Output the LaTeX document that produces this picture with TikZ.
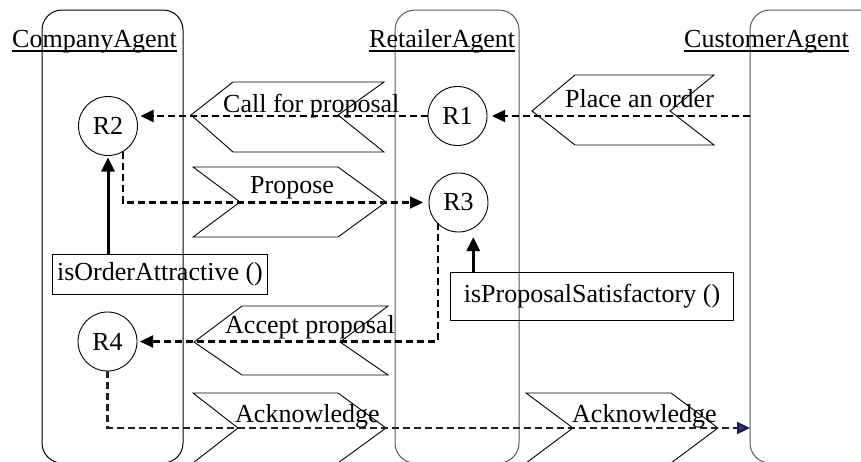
\documentclass[tikz,border=0pt]{standalone}
\usepackage{fontspec}
\setmainfont{Liberation Serif}
\usetikzlibrary{arrows.meta,calc}
\definecolor{acknavy}{RGB}{30,30,60}
\definecolor{ackblue}{RGB}{51,51,170}
\begin{document}
\begin{tikzpicture}[x=1pt,y=-1pt,
  lane/.style={draw, rounded corners=20pt, inner sep=0pt, outer sep=0pt, line width=1pt},
  state/.style={draw, circle, minimum size=59pt, inner sep=0pt, outer sep=0pt, line width=0.9pt,
                font=\fontsize{26}{31}\selectfont},
  txt/.style={font=\fontsize{26}{31}\selectfont, inner sep=0pt, anchor=base west},
  cond/.style={draw, line width=1pt, inner sep=0pt, anchor=north west,
               font=\fontsize{26}{31}\selectfont},
  msgshape/.style={draw, line width=0.9pt, line join=miter},
  msg/.style={line width=2.2pt, dash pattern=on 7pt off 4pt,
              -{Triangle[length=13pt,width=12pt]}},
  ackmsg/.style={msg, draw=acknavy,
                 -{Triangle[length=13pt,width=12pt,fill=ackblue]}},
  call/.style={line width=3pt, -{Triangle[length=14pt,width=13pt]}},
  uline/.style={line width=1.5pt}
]
\useasboundingbox (0,0) rectangle (861,461);
\clip (0,0) rectangle (861,461);

% swim lanes of the three agents
\node[lane, minimum width=141pt, minimum height=453pt, anchor=north west] (company) at (42,10) {};
\node[lane, draw=black!65, minimum width=124pt, minimum height=453pt, anchor=north west] (retailer) at (395,10) {};
\node[lane, draw=black!65, minimum width=160pt, minimum height=453pt, anchor=north west] (customer) at (750,10) {};

% agent names
\node[txt] (lblc) at (12,47) {CompanyAgent};
\node[txt] (lblr) at (369,47) {RetailerAgent};
\node[txt] (lblu) at (684,47) {CustomerAgent};
\draw[uline] ([yshift=-4pt]lblc.base west) -- ([yshift=-4pt]lblc.base east);
\draw[uline] ([yshift=-4pt]lblr.base west) -- ([yshift=-4pt]lblr.base east);
\draw[uline] ([yshift=-4pt]lblu.base west) -- ([yshift=-4pt]lblu.base east);

% message envelopes
\draw[msgshape] (191,115) -- (233,82) -- (384,82) -- (338,115) -- (384,152) -- (233,152) -- cycle;
\draw[msgshape] (532,111) -- (575,75) -- (714,75) -- (670,111) -- (714,145) -- (575,145) -- cycle;
\draw[msgshape] (193,167) -- (338,167) -- (386,202) -- (338,237) -- (193,237) -- (240,202) -- cycle;
\draw[msgshape] (194,342) -- (242,306) -- (388,306) -- (340,342) -- (388,375) -- (242,375) -- cycle;
\draw[msgshape] (193,393) -- (338,393) -- (386,428) -- (338,463) -- (193,463) -- (238,428) -- cycle;
\draw[msgshape] (526,393) -- (671,393) -- (718,428) -- (671,463) -- (526,463) -- (573,428) -- cycle;

% states
\node[state] (R1) at (457.5,116) {R1};
\node[state] (R2) at (108,126) {R2};
\node[state] (R3) at (458.5,202.5) {R3};
\node[state] (R4) at (107.5,341.5) {R4};

% conditions
\node[cond, minimum width=215pt, minimum height=40pt] (ordbox) at (52,254) {isOrderAttractive ()};
\node[cond, minimum width=283pt, minimum height=48pt] (propbox) at (450,272) {isProposalSatisfactory ()};

% messages
\coordinate (ackrow) at (0,428);
\draw[msg, shorten >=5pt] (R1.east -| customer.west) -- (R1.east);
\draw[msg, shorten >=3pt] (R1.west) -- (R1.west -| R2.east);
\draw[msg, shorten >=6pt] (R2.-60) -- (R2.-60 |- R3.west) -- (R3.west);
\draw[msg, shorten >=3pt] (R3.-135) -- (R3.-135 |- R4.east) -- (R4.east);
\draw[ackmsg] (R4.south) -- (R4.south |- ackrow) -- (customer.west |- ackrow);

% condition checks
\draw[call, shorten >=2pt] (R2.south |- ordbox.north) -- (R2.south);
\draw[call, shorten >=9pt] (R3.-60 |- propbox.north) -- (R3.-60);

% message labels
\node[txt] (tcall) at (223,112) {Call for proposal};
\node[txt] (torder) at (565,107) {Place an order};
\node[txt] (tprop) at (250,193) {Propose};
\node[txt] (taccept) at (225,333) {Accept proposal};
\node[txt] (tack1) at (235,422) {Acknowledge};
\node[txt] (tack2) at (572,422) {Acknowledge};
\end{tikzpicture}
\end{document}
